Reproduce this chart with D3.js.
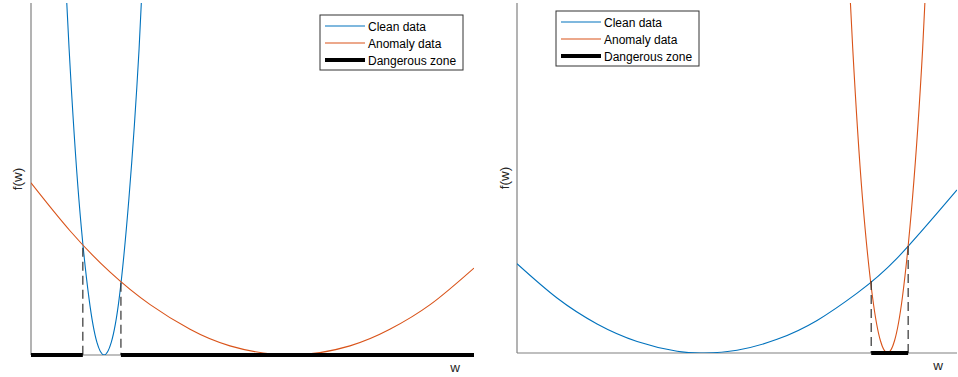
<!DOCTYPE html>
<html>
<head>
<meta charset="utf-8">
<script src="https://cdn.jsdelivr.net/npm/d3@7"></script>
<style>
  body { margin: 0; background: #fff; }
  svg { display: block; font-family: "Liberation Sans", Arial, sans-serif; }
</style>
</head>
<body>
<svg id="chart" width="958" height="377"></svg>
<script>
// values, w and f(w) in arbitrary units (0..10)
const legendLabels = ["Clean data", "Anomaly data", "Dangerous zone"];

// left panel
const leftClean = [
  [0.63, 14.4], [0.86, 8.70], [1.08, 4.44], [1.31, 1.60], [1.49, 0.35], [1.65, 0],
  [1.81, 0.35], [1.99, 1.60], [2.21, 4.44], [2.44, 8.70], [2.66, 14.4]
];
const leftAnomaly = [
  [0, 4.89], [0.88, 3.53], [1.78, 2.36], [2.69, 1.43], [3.59, 0.73], [4.49, 0.26], [5.85, 0],
  [7.20, 0.26], [8.10, 0.73], [9.01, 1.43], [10, 2.47]
];
const leftCross = [[1.17, 3.05], [2.03, 2.05]];
const leftDanger = [[0, 1.17], [2.03, 10]];

// right panel
const rightClean = [
  [0, 2.55], [0.91, 1.57], [1.82, 0.83], [2.73, 0.33], [3.64, 0.05], [4.25, 0],
  [5.0, 0.08], [5.91, 0.39], [6.82, 0.93], [7.73, 1.71], [8.64, 2.71], [10, 4.66]
];
const rightAnomaly = [
  [7.40, 14.4], [7.63, 8.71], [7.85, 4.45], [8.08, 1.60], [8.26, 0.35], [8.42, 0],
  [8.58, 0.35], [8.76, 1.60], [8.99, 4.45], [9.22, 8.71], [9.44, 14.4]
];
const rightCross = [[8.05, 2.06], [8.89, 3.06]];
const rightDanger = [[8.05, 8.89]];

const blue = "#0072BD", orange = "#D95319", axisColor = "#808080";

const svg = d3.select("#chart");

function drawPanel(opt) {
  const x = d3.scaleLinear().domain([0, 10]).range([opt.left, opt.right]);
  const y = d3.scaleLinear().domain([0, 10]).range([opt.bottom, opt.top]);
  const g = svg.append("g");

  const clipId = "clip" + opt.id;
  svg.append("clipPath").attr("id", clipId)
    .append("rect")
    .attr("x", opt.left).attr("y", opt.top)
    .attr("width", opt.right - opt.left).attr("height", opt.bottom - opt.top);

  // axes (no ticks)
  g.append("line")
    .attr("x1", opt.left).attr("x2", opt.left)
    .attr("y1", opt.top).attr("y2", opt.bottom)
    .attr("stroke", axisColor).attr("stroke-width", 1.2);
  g.append("line")
    .attr("x1", opt.left).attr("x2", opt.right)
    .attr("y1", opt.bottom).attr("y2", opt.bottom)
    .attr("stroke", axisColor).attr("stroke-width", 1.2);

  const line = d3.line().x(d => x(d[0])).y(d => y(d[1])).curve(d3.curveNatural);
  const plot = g.append("g").attr("clip-path", `url(#${clipId})`);

  plot.append("path").datum(opt.clean)
    .attr("d", line).attr("fill", "none")
    .attr("stroke", blue).attr("stroke-width", 1.1);
  plot.append("path").datum(opt.anomaly)
    .attr("d", line).attr("fill", "none")
    .attr("stroke", orange).attr("stroke-width", 1.1);

  // dashed drop lines at intersections
  g.selectAll(".drop").data(opt.cross).join("line")
    .attr("x1", d => x(d[0])).attr("x2", d => x(d[0]))
    .attr("y1", d => y(d[1])).attr("y2", y(0))
    .attr("stroke", "#333").attr("stroke-width", 1.2)
    .attr("stroke-dasharray", "9,5");

  // dangerous zone
  g.selectAll(".danger").data(opt.danger).join("line")
    .attr("x1", d => x(d[0])).attr("x2", d => x(d[1]))
    .attr("y1", y(0)).attr("y2", y(0))
    .attr("stroke", "#000").attr("stroke-width", 4);

  // axis labels
  g.append("text")
    .attr("x", opt.right - 19).attr("y", opt.bottom + 17)
    .attr("text-anchor", "middle")
    .attr("font-size", 13.5).attr("fill", "#262626")
    .text("w");
  g.append("text")
    .attr("transform", `translate(${opt.ylabelX},${(opt.top + opt.bottom) / 2}) rotate(-90)`)
    .attr("text-anchor", "middle")
    .attr("font-size", 13.5).attr("fill", "#262626")
    .text("f(w)");

  // legend
  const lg = g.append("g").attr("transform", `translate(${opt.legX},${opt.legY})`);
  lg.append("rect")
    .attr("x", 0).attr("y", 0).attr("width", 143).attr("height", 55)
    .attr("fill", "#fff").attr("stroke", "#333").attr("stroke-width", 1);
  const styles = [
    { c: blue, w: 1.1 },
    { c: orange, w: 1.1 },
    { c: "#000", w: 4 }
  ];
  legendLabels.forEach((lab, i) => {
    const cy = 11 + i * 17;
    lg.append("line")
      .attr("x1", 5).attr("x2", 45).attr("y1", cy).attr("y2", cy)
      .attr("stroke", styles[i].c).attr("stroke-width", styles[i].w);
    lg.append("text")
      .attr("x", 48).attr("y", cy + 4.5)
      .attr("font-size", 12).attr("fill", "#000")
      .text(lab);
  });
}

drawPanel({
  id: "L", left: 31, right: 474, top: 3, bottom: 355,
  clean: leftClean, anomaly: leftAnomaly, cross: leftCross, danger: leftDanger,
  legX: 320, legY: 15, ylabelX: 22
});
drawPanel({
  id: "R", left: 517, right: 957, top: 3, bottom: 353,
  clean: rightClean, anomaly: rightAnomaly, cross: rightCross, danger: rightDanger,
  legX: 556, legY: 11, ylabelX: 509
});
</script>
</body>
</html>
